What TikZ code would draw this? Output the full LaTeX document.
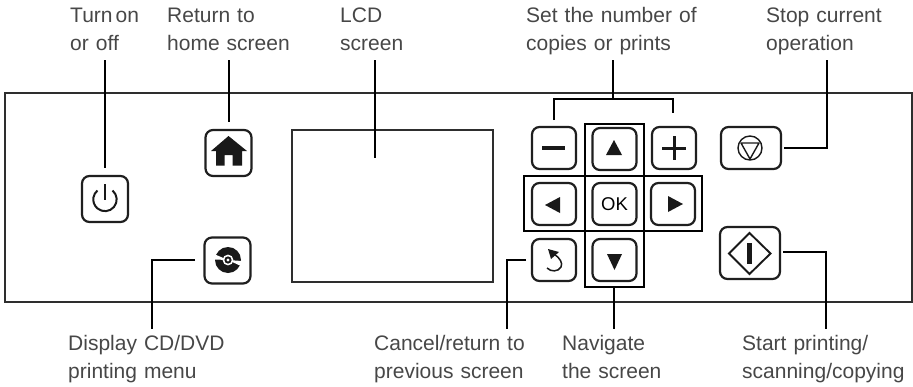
\documentclass[tikz,border=0pt]{standalone}
\usepackage{fontspec}
\setmainfont[WordSpace=1.2]{Liberation Sans}
\tikzset{
  x=1pt,y=-1pt,
  panelline/.style={draw=black!82,line width=2.6pt},
  btn/.style={draw=black!88,line width=2.2pt,rounded corners=7.5pt,inner sep=0pt,minimum width=#1,fill=white},
  btn/.default=44pt,
  leader/.style={draw=black,line width=1.7pt},
  outline/.style={draw=black,line width=1.5pt},
  lbl/.style={anchor=base west,inner sep=0pt,align=left,text=black!72,font=\fontsize{21}{27.4}\selectfont},
  glyph/.style={fill=black!90,draw=none},
}
\begin{document}
\begin{tikzpicture}
\useasboundingbox (0,0) rectangle (913,386);
% panel and screen
\node[panelline,minimum width=907pt,minimum height=209pt,inner sep=0pt] (panel) at (458.5,197.5) {};
\node[panelline,minimum width=201pt,minimum height=152pt,inner sep=0pt] (lcd) at (392.5,206) {};
% keypad outlines
\node[outline,minimum width=59pt,minimum height=163pt,inner sep=0pt] (vcross) at (614.5,205.5) {};
\node[outline,minimum width=178pt,minimum height=55pt,inner sep=0pt] (hcross) at (613,203.5) {};
% buttons
\node[btn,minimum height=46pt,minimum width=46pt] (power) at (105,199) {};
\node[btn,minimum height=46pt,minimum width=46pt] (home) at (228.5,153) {};
\node[btn,minimum height=46pt,minimum width=46pt] (cd) at (227.5,260.5) {};
\node[btn,minimum height=42pt] (minus) at (554,148) {};
\node[btn,minimum height=42pt] (up) at (614.5,149) {};
\node[btn,minimum height=42pt] (plus) at (674,148) {};
\node[btn,minimum height=42pt] (left) at (554,204) {};
\node[btn,minimum height=42pt] (ok) at (614.5,204) {\fontsize{18.5}{18.5}\selectfont OK};
\node[btn,minimum height=42pt] (right) at (673,204) {};
\node[btn,minimum height=42pt] (back) at (554,260) {};
\node[btn,minimum height=42pt] (down) at (614.5,260) {};
\node[btn,minimum height=42pt,minimum width=60pt] (stop) at (751,148) {};
\node[btn,minimum height=52pt,minimum width=60pt] (start) at (750,253) {};
% icons
\draw[line width=2pt,black!90] (105,184) -- (105,200);
\draw[line width=2pt,black!90] (112.5,190.5) arc[start angle=-50,end angle=230,radius=11.7];
\fill[glyph] (228.5,136) -- (247,151) -- (242,151) -- (242,165.5) -- (232.5,165.5) -- (232.5,155) -- (224.5,155) -- (224.5,165.5) -- (216,165.5) -- (216,151) -- (211,151) -- cycle;
\fill[glyph] (228,260) circle[radius=13];
\fill[white] (228,260) -- (214,254) -- (214,259.5) -- cycle;
\fill[white] (228,260) -- (242,261) -- (242,266.5) -- cycle;
\fill[white] (228,260) circle[radius=5.4];
\fill[glyph] (228,260) circle[radius=3.6];
\fill[white] (228,260) circle[radius=1.7];
\fill[glyph] (542,146) rectangle (565,150);
\fill[glyph] (662,146.5) rectangle (686,149.5);
\fill[glyph] (672.5,136) rectangle (675.5,160);
\fill[glyph] (614,140) -- (622,155) -- (606,155) -- cycle;
\fill[glyph] (545,205) -- (560,197) -- (560,213) -- cycle;
\fill[glyph] (683,204) -- (668,196) -- (668,212) -- cycle;
\fill[glyph] (614.5,270) -- (607,254) -- (622,254) -- cycle;
\draw[line width=1.5pt,black!90] (554,254) .. controls (560,258) and (563,263) .. (561,267) .. controls (558,272) and (551,272) .. (547,268);
\fill[glyph] (548,249) -- (559,252) -- (551,259) -- cycle;
\draw[line width=1.4pt,black!90] (750,148) circle[radius=12];
\draw[line width=1.4pt,black!90,line join=round] (741,143) -- (759,143) -- (750,159) -- cycle;
\draw[line width=1.9pt,black!90] (749.5,233) -- (770.5,253.5) -- (749.5,274) -- (729,253.5) -- cycle;
\fill[glyph] (747,243) rectangle (752,264);
% leaders
\coordinate (tp) at (105,60); \coordinate (th) at (229,60); \coordinate (tl) at (375,60);
\coordinate (ts) at (613,60); \coordinate (to) at (827,60);
\coordinate (bc) at (152,329); \coordinate (bb) at (507,329); \coordinate (bn) at (614,329); \coordinate (bs) at (826,329);
\draw[leader] (tp) -- (105,168);
\draw[leader] (th) -- (229,122);
\draw[leader] (tl) -- (375,157.5);
\draw[leader] (ts) -- (613,99);
\draw[leader] (554,120) -- (554,99) -- (673,99) -- (673,113);
\draw[leader] (784,148) -- (827,148) -- (to);
\draw[leader] (195,260) -- (152,260) -- (bc);
\draw[leader] (526,260) -- (507,260) -- (bb);
\draw[leader] (vcross.south -| bn) -- (bn);
\draw[leader] (783,252) -- (826,252) -- (bs);
% labels
\node[lbl] (a) at (70,50) {Turn\hspace{3pt}on\\or off};
\node[lbl] (b) at (167,50) {Return to\\home screen};
\node[lbl] (c) at (340,50) {LCD\\screen};
\node[lbl] (d) at (526,50) {Set the number of\\copies or prints};
\node[lbl] (e) at (766,50) {Stop current\\operation};
\node[lbl] (f) at (68,378) {Display CD/DVD\\printing menu};
\node[lbl] (g) at (374,378) {Cancel/return to\\previous screen};
\node[lbl] (h) at (562,378) {Navigate\\the screen};
\node[lbl] (i) at (742,378) {Start printing/\\scanning/copying};
\end{tikzpicture}
\end{document}
